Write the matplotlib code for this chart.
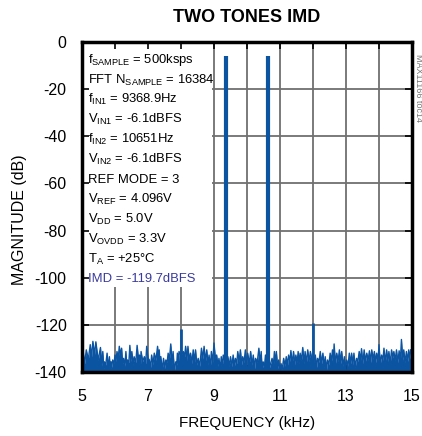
import matplotlib
matplotlib.use('Agg')
import matplotlib.pyplot as plt
from matplotlib.patches import Rectangle
from matplotlib.ticker import FixedLocator, FixedFormatter

plt.rcParams['font.family'] = ['Liberation Sans', 'DejaVu Sans']
plt.rcParams['mathtext.fontset'] = 'custom'
plt.rcParams['mathtext.rm'] = 'Liberation Sans'
plt.rcParams['mathtext.default'] = 'regular'

# ---- data ----
# noise-floor peaks
noise_freq_khz = [5.03, 5.13, 5.25, 5.33, 5.42, 5.56, 5.63, 5.68, 5.76, 5.83, 5.88, 5.93,
                  6.00, 6.06, 6.13, 6.20, 6.26, 6.33, 6.38, 6.45, 6.51, 6.58, 6.67, 6.74,
                  6.79, 6.89, 6.96, 7.04, 7.11, 7.19, 7.29, 7.34, 7.39, 7.47, 7.54, 7.61,
                  7.69, 7.76, 7.84, 7.89, 7.94, 8.07, 8.14, 8.21, 8.29, 8.37, 8.44, 8.52,
                  8.62, 8.70, 8.78, 8.85, 8.92, 9.00, 9.08, 9.15, 9.22, 9.28, 9.42, 9.50,
                  9.58, 9.65, 9.72, 9.80, 9.87, 9.95, 10.02, 10.11, 10.19, 10.26, 10.36,
                  10.43, 10.49, 10.56, 10.60, 10.76, 10.83, 10.89, 10.96, 11.03, 11.11,
                  11.19, 11.26, 11.33, 11.41, 11.48, 11.55, 11.61, 11.69, 11.76, 11.84,
                  11.92, 12.07, 12.14, 12.22, 12.30, 12.37, 12.44, 12.52, 12.59, 12.64,
                  12.72, 12.80, 12.87, 12.95, 13.02, 13.10, 13.17, 13.24, 13.32, 13.40,
                  13.47, 13.55, 13.63, 13.71, 13.78, 13.86, 13.93, 14.00, 14.08, 14.15,
                  14.23, 14.30, 14.38, 14.45, 14.53, 14.61, 14.68, 14.75, 14.83, 14.90,
                  14.96]
noise_db = [-130.6, -130.6, -128.4, -127.0, -127.2, -129.6, -131.3, -135.7, -132.0, -133.5,
            -135.7, -134.9, -132.8, -131.3, -129.1, -129.9, -134.2, -131.3, -134.9, -128.7,
            -131.3, -133.5, -128.7, -132.8, -131.3, -133.5, -129.1, -134.9, -132.8, -132.0,
            -129.1, -130.6, -133.5, -134.2, -134.9, -132.0, -128.1, -131.3, -135.7, -132.0,
            -131.3, -131.3, -129.1, -129.1, -132.0, -130.6, -130.6, -134.2, -129.9, -129.1,
            -130.6, -132.8, -131.3, -127.7, -132.8, -134.2, -133.5, -132.8, -133.5, -133.5,
            -132.8, -134.2, -131.3, -130.6, -133.5, -130.6, -132.0, -131.3, -132.8, -134.2,
            -129.9, -131.3, -135.7, -132.8, -133.5, -134.2, -131.3, -131.3, -134.9, -136.4,
            -134.2, -133.5, -132.8, -130.9, -131.3, -132.8, -131.3, -132.0, -129.6, -131.3,
            -130.6, -131.3, -132.8, -134.2, -131.3, -132.0, -133.5, -134.9, -132.0, -130.6,
            -128.1, -132.0, -130.6, -131.3, -133.5, -134.9, -132.0, -132.0, -132.0, -134.2,
            -131.3, -130.1, -130.6, -132.0, -131.0, -130.6, -131.3, -132.0, -128.4, -132.8,
            -129.9, -130.6, -131.3, -130.6, -131.3, -130.6, -131.0, -126.2, -130.6, -131.3,
            -130.6, -130.6]
# noise-floor dips between the peaks
dip_freq_khz = [5.08, 5.19, 5.29, 5.38, 5.49, 5.60, 5.66, 5.72, 5.80, 5.86, 5.90, 5.97,
                6.03, 6.10, 6.17, 6.23, 6.30, 6.36, 6.42, 6.48, 6.55, 6.63, 6.71, 6.77,
                6.84, 6.93, 7.00, 7.08, 7.15, 7.24, 7.32, 7.37, 7.43, 7.51, 7.58, 7.65,
                7.73, 7.80, 7.87, 7.92, 8.00, 8.11, 8.18, 8.25, 8.33, 8.41, 8.48, 8.57,
                8.66, 8.74, 8.82, 8.89, 8.96, 9.04, 9.12, 9.19, 9.25, 9.35, 9.46, 9.54,
                9.62, 9.69, 9.76, 9.84, 9.91, 9.99, 10.07, 10.15, 10.23, 10.31, 10.40,
                10.46, 10.53, 10.58, 10.68, 10.80, 10.86, 10.93, 11.00, 11.07, 11.15,
                11.23, 11.30, 11.37, 11.45, 11.52, 11.58, 11.65, 11.73, 11.80, 11.88,
                12.00, 12.11, 12.18, 12.26, 12.34, 12.41, 12.48, 12.56, 12.62, 12.68,
                12.76, 12.84, 12.91, 12.99, 13.06, 13.14, 13.21, 13.28, 13.36, 13.44,
                13.51, 13.59, 13.67, 13.75, 13.82, 13.90, 13.97, 14.04, 14.12, 14.19,
                14.27, 14.34, 14.42, 14.49, 14.57, 14.65, 14.72, 14.79, 14.87, 14.93]
dip_db = [-136.5, -134.8, -133.5, -132.5, -135.0, -137.5, -138.5, -137.0, -138.8, -139.0, -138.0, -136.5,
          -135.5, -134.0, -133.0, -136.5, -137.5, -138.2, -136.0, -135.5, -137.0, -136.0, -134.5, -137.5,
          -135.5, -136.5, -134.0, -138.0, -137.0, -135.0, -136.5, -137.8, -139.2, -138.5, -136.0, -134.5,
          -137.0, -139.5, -137.0, -136.5, -133.0, -133.5, -135.0, -134.8, -136.5, -135.8, -137.0, -137.5,
          -134.5, -135.5, -137.0, -138.0, -136.0, -134.0, -137.5, -139.0, -138.0, -137.0, -137.5, -137.8,
          -137.5, -136.5, -135.5, -137.0, -136.0, -137.5, -136.5, -137.0, -138.5, -136.0, -136.5, -139.5,
          -137.5, -138.0, -138.2, -137.0, -136.5, -138.5, -139.5, -138.8, -137.5, -137.0, -135.5, -136.5,
          -137.0, -136.0, -136.5, -135.0, -136.5, -136.0, -135.5, -137.0, -138.0, -136.0, -136.5, -138.0,
          -139.0, -137.0, -135.5, -134.5, -136.5, -135.5, -136.5, -137.5, -139.0, -137.5, -136.5, -137.0,
          -138.0, -135.5, -135.0, -136.5, -135.5, -135.0, -136.0, -134.5, -136.0, -135.5, -136.5, -135.0,
          -136.0, -135.5, -136.5, -134.0, -135.0, -136.0, -134.5, -135.0, -136.0, -135.5, -134.5]
tone_freq_khz = [9.3689, 10.651]
tone_db = [-6.1, -6.1]
spur_freq_khz = [8.0, 12.0]
spur_db = [-121.9, -119.4]

x_ticks = [5, 6, 7, 8, 9, 10, 11, 12, 13, 14, 15]
x_tick_labels = ['5', '', '7', '', '9', '', '11', '', '13', '', '15']
y_ticks = [0, -20, -40, -60, -80, -100, -120, -140]
y_tick_labels = ['0', '-20', '-40', '-60', '-80', '-100', '-120', '-140']

info_lines = [
    'f$_{SAMPLE}$ = 500ksps',
    'FFT N$_{SAMPLE}$ = 16384',
    'f$_{IN1}$ = 9368.9Hz',
    'V$_{IN1}$ = -6.1dBFS',
    'f$_{IN2}$ = 10651Hz',
    'V$_{IN2}$ = -6.1dBFS',
    'REF MODE = 3',
    'V$_{REF}$ = 4.096V',
    'V$_{DD}$ = 5.0V',
    'V$_{OVDD}$ = 3.3V',
    'T$_{A}$ = +25°C',
    'IMD = -119.7dBFS',
]

blue = '#0B54A2'
grid_col = '#707070'

# interleave peaks and dips into one spectrum trace
spec_f, spec_db = [], []
for i in range(len(noise_freq_khz)):
    spec_f.append(noise_freq_khz[i])
    spec_db.append(noise_db[i])
    if i < len(dip_freq_khz):
        spec_f.append(dip_freq_khz[i])
        spec_db.append(dip_db[i])

W, H = 422, 436
fig = plt.figure(figsize=(W / 100, H / 100), dpi=100)
ax = fig.add_axes([82 / W, 1 - 372 / H, 330 / W, 330 / H])
ax.set_xlim(5, 15)
ax.set_ylim(-140, 0)

# grid
for v in x_ticks[1:-1]:
    ax.axvline(v, color=grid_col, lw=1.3, zorder=1)
for v in y_ticks[1:-1]:
    ax.axhline(v, color=grid_col, lw=1.3, zorder=1)

# white legend box hiding the grid
ax.add_patch(Rectangle((5, -104), 3.95, 104, facecolor='white', edgecolor='none', zorder=2))

# spectrum
ax.fill_between(spec_f, spec_db, -140, color=blue, lw=0, zorder=3)
ax.plot(spec_f, spec_db, color=blue, lw=1.0, zorder=3)
ax.vlines(tone_freq_khz, -140, tone_db, color=blue, lw=3, zorder=3)
ax.vlines(spur_freq_khz, -140, spur_db, color=blue, lw=2, zorder=3)

ax.set_axisbelow(False)
ax.xaxis.set_major_locator(FixedLocator(x_ticks))
ax.xaxis.set_major_formatter(FixedFormatter(x_tick_labels))
ax.yaxis.set_major_locator(FixedLocator(y_ticks))
ax.yaxis.set_major_formatter(FixedFormatter(y_tick_labels))
ax.tick_params(axis='both', direction='in', length=5, width=1.2, color='black',
               top=True, right=True, labelsize=11.5)
ax.tick_params(axis='y', pad=11)
ax.tick_params(axis='x', pad=12)
for s in ax.spines.values():
    s.set_linewidth(2.5)
    s.set_zorder(5)

# info text
for i, line in enumerate(info_lines):
    col = '#3A3A9E' if line.startswith('IMD') else 'black'
    fig.text(88 / W, 1 - (63.5 + 19.9 * i) / H, line, fontsize=9.4, color=col,
             ha='left', va='baseline')

fig.text(247 / W, 1 - 17 / H, 'TWO TONES IMD', fontsize=13, fontweight='bold',
         ha='center', va='center')
fig.text(247 / W, 1 - 423 / H, 'FREQUENCY (kHz)', fontsize=11, ha='center', va='center')
fig.text(20 / W, 1 - 220 / H, 'MAGNITUDE (dB)', fontsize=11.5, rotation=90,
         ha='center', va='center')
fig.text(419 / W, 1 - 88 / H, 'MAX11166 toc14', fontsize=6.5, color='#777777',
         rotation=-90, ha='center', va='center')

fig.savefig('out.png', dpi=100)
